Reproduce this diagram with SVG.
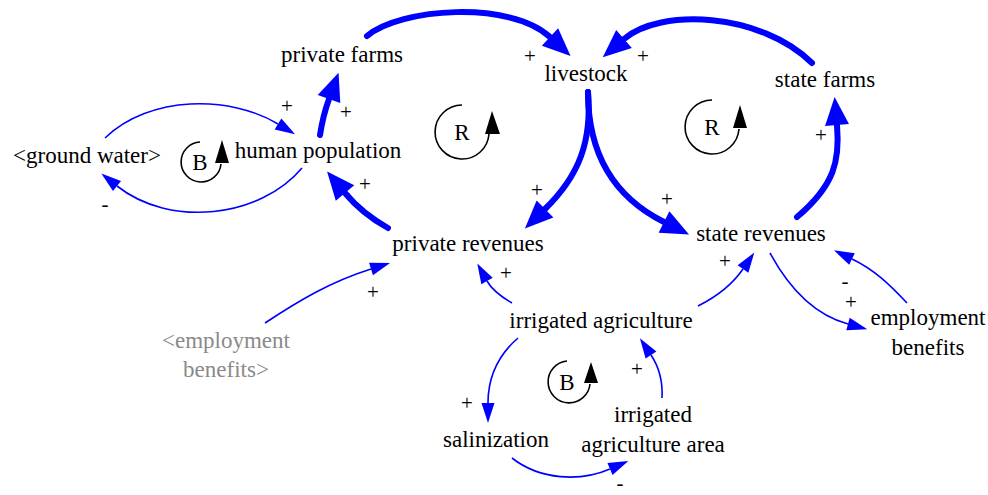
<svg xmlns="http://www.w3.org/2000/svg" width="988" height="495" viewBox="0 0 988 495">
<style>
text{font-family:"Liberation Serif","Times New Roman",serif;font-size:23px;fill:#000;text-anchor:middle}
.g{fill:#8a8a8a}
.pol{font-size:21px}
.thick{fill:none;stroke:#0000ff;stroke-width:6;stroke-linecap:round}
.thin{fill:none;stroke:#0000ff;stroke-width:1.6}
.loop{fill:none;stroke:#000;stroke-width:1.6}
</style>
<defs>
<marker id="ah" markerUnits="userSpaceOnUse" markerWidth="30" markerHeight="26" refX="0" refY="12" orient="auto" overflow="visible">
<path d="M0,0 L28,12 L0,24 Z" fill="#0000ff"/>
</marker>
<marker id="at" markerUnits="userSpaceOnUse" markerWidth="22" markerHeight="14" refX="0" refY="6.5" orient="auto" overflow="visible">
<path d="M0,0 L20,6.5 L0,13 Z" fill="#0000ff"/>
</marker>
</defs>
<rect width="988" height="495" fill="#fff"/>

<g id="connectors">
<path class="thick" d="M367,36 C400,8 510,0 550,37" marker-end="url(#ah)"/>
<path class="thick" d="M812,63 C760,12 660,8 624,39" marker-end="url(#ah)"/>
<path class="thick" d="M588,92 C592,140 580,175 545,209" marker-end="url(#ah)"/>
<path class="thick" d="M588,92 C588,150 610,195 664,222" marker-end="url(#ah)"/>
<path class="thick" d="M797,217 C835,185 840,160 837,125" marker-end="url(#ah)"/>
<path class="thick" d="M320,135 C322,122 325,110 329,99" marker-end="url(#ah)"/>
<path class="thick" d="M388,228 C370,218 355,205 345,193" marker-end="url(#ah)"/>
<path class="thin" d="M105,138 C150,95 230,95 278,124" marker-end="url(#at)"/>
<path class="thin" d="M302,168 C260,218 170,228 117,186" marker-end="url(#at)"/>
<path class="thin" d="M265,323 C300,300 330,282 371,269" marker-end="url(#at)"/>
<path class="thin" d="M512,303 C500,296 492,290 487,281" marker-end="url(#at)"/>
<path class="thin" d="M518,338 C495,358 488,380 488,403" marker-end="url(#at)"/>
<path class="thin" d="M512,458 C540,480 580,482 610,469" marker-end="url(#at)"/>
<path class="thin" d="M662,398 C663,380 659,367 651,355" marker-end="url(#at)"/>
<path class="thin" d="M698,306 C718,296 732,285 743,269" marker-end="url(#at)"/>
<path class="thin" d="M770,253 C790,290 815,315 848,324" marker-end="url(#at)"/>
<path class="thin" d="M907,303 C890,285 875,270 852,259" marker-end="url(#at)"/>
</g>

<g id="polarities">
<text class="pol" x="530" y="63">+</text>
<text class="pol" x="643" y="63">+</text>
<text class="pol" x="287" y="113">+</text>
<text class="pol" x="346" y="119">+</text>
<text class="pol" x="105" y="211">-</text>
<text class="pol" x="365" y="191">+</text>
<text class="pol" x="537" y="197">+</text>
<text class="pol" x="667" y="206">+</text>
<text class="pol" x="821" y="142">+</text>
<text class="pol" x="373" y="299">+</text>
<text class="pol" x="506" y="280">+</text>
<text class="pol" x="467" y="410">+</text>
<text class="pol" x="637" y="376">+</text>
<text class="pol" x="620" y="490">-</text>
<text class="pol" x="725" y="268">+</text>
<text class="pol" x="845" y="288">-</text>
<text class="pol" x="851" y="309">+</text>
</g>

<g id="loopR1">
<path class="loop" d="M462,105 A27,27 0 1 0 489,134"/>
<polygon points="485,134 500,134 492,111" fill="#000"/>
<text x="462" y="140">R</text>
</g>
<g id="loopR2">
<path class="loop" d="M712,100 A27,27 0 1 0 739,129"/>
<polygon points="733,128 747,128 740,105" fill="#000"/>
<text x="712" y="135">R</text>
</g>
<g id="loopB1">
<path class="loop" d="M200,142 A20,20 0 1 0 221,164"/>
<polygon points="215,163 229,163 222,140" fill="#000"/>
<text x="200" y="170">B</text>
</g>
<g id="loopB2">
<path class="loop" d="M567,361 A21,21 0 1 0 590,384"/>
<polygon points="584,383 598,383 591,362" fill="#000"/>
<text x="567" y="390">B</text>
</g>

<g id="private-farms"><text x="342" y="62">private farms</text></g>
<g id="livestock"><text x="586" y="81">livestock</text></g>
<g id="state-farms"><text x="825" y="87">state farms</text></g>
<g id="ground-water"><text x="87" y="163">&lt;ground water&gt;</text></g>
<g id="human-population"><text x="318" y="158">human population</text></g>
<g id="private-revenues"><text x="468" y="251">private revenues</text></g>
<g id="state-revenues"><text x="761" y="241">state revenues</text></g>
<g id="irrigated-agriculture"><text x="601" y="328">irrigated agriculture</text></g>
<g id="employment-benefits"><text x="928" y="325">employment</text><text x="928" y="355">benefits</text></g>
<g id="employment-benefits-shadow"><text class="g" x="226" y="348">&lt;employment</text><text class="g" x="226" y="377">benefits&gt;</text></g>
<g id="salinization"><text x="496" y="447">salinization</text></g>
<g id="irrigated-agriculture-area"><text x="653" y="422">irrigated</text><text x="653" y="452">agriculture area</text></g>
</svg>
